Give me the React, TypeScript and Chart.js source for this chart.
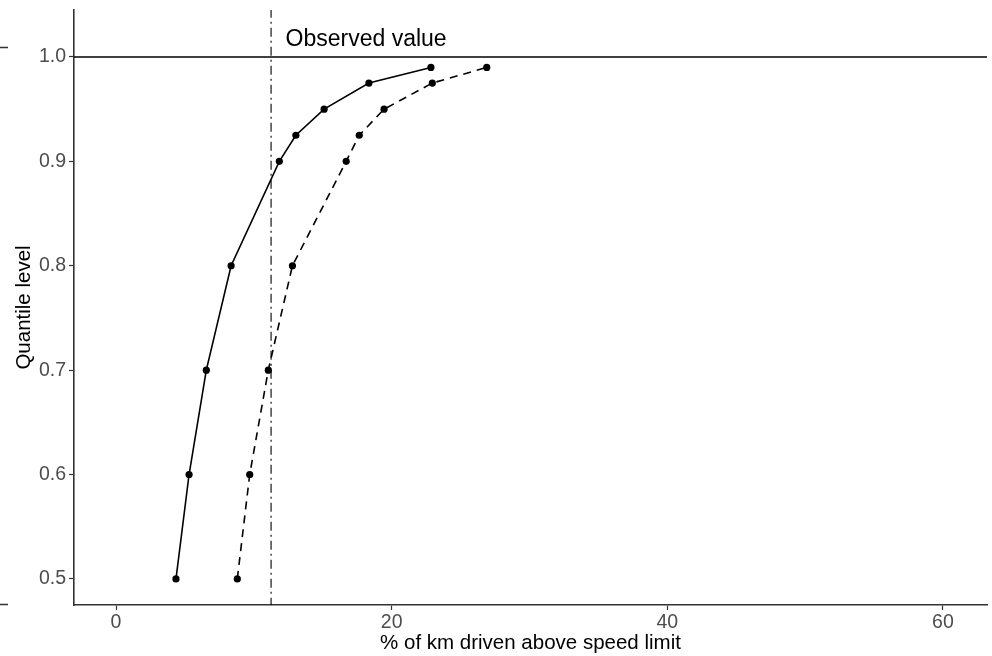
import React, { useEffect, useRef } from "react";
import { Chart, registerables } from "chart.js";

Chart.register(...registerables);

// Quantile levels and the matching percentage of km above the speed limit
const quantileLevels = [0.5, 0.6, 0.7, 0.8, 0.9, 0.925, 0.95, 0.975, 0.99];
const solidValues = [4.35, 5.3, 6.55, 8.35, 11.85, 13.05, 15.1, 18.35, 22.85];
const dashedValues = [8.8, 9.7, 11.05, 12.8, 16.7, 17.65, 19.45, 22.95, 26.9];

const observedValue = 11.25;
const observedLabel = "Observed value";
const xTicks = [0, 20, 40, 60];
const yTicks = [0.5, 0.6, 0.7, 0.8, 0.9, 1.0];
const xTitle = "% of km driven above speed limit";
const yTitle = "Quantile level";

const FONT = "'Liberation Sans', Arial, Helvetica, sans-serif";

const toPoints = (xs: number[]) => xs.map((x, i) => ({ x, y: quantileLevels[i] }));

const labelPlugin = {
  id: "observedLabel",
  afterDatasetsDraw(chart: any) {
    const { ctx, scales } = chart;
    const px = scales.x.getPixelForValue(observedValue + 1.05);
    const py = scales.y.getPixelForValue(1.017);
    ctx.save();
    ctx.fillStyle = "#000";
    ctx.font = `23px ${FONT}`;
    ctx.textAlign = "left";
    ctx.textBaseline = "middle";
    ctx.fillText(observedLabel, px, py);
    ctx.restore();
  },
};

const edgeMarksPlugin = {
  id: "edgeMarks",
  afterDraw(chart: any) {
    const { ctx } = chart;
    ctx.save();
    ctx.strokeStyle = "#333";
    ctx.lineWidth = 1.3;
    ctx.beginPath();
    ctx.moveTo(0, 47.5);
    ctx.lineTo(8, 47.5);
    ctx.moveTo(0, 604.5);
    ctx.lineTo(8, 604.5);
    ctx.stroke();
    ctx.restore();
  },
};

export default function App() {
  const canvasRef = useRef<HTMLCanvasElement | null>(null);

  useEffect(() => {
    if (!canvasRef.current) return;
    const chart = new Chart(canvasRef.current, {
      type: "scatter",
      data: {
        datasets: [
          {
            label: "reference",
            data: [
              { x: -100, y: 1.0 },
              { x: 100, y: 1.0 },
            ],
            showLine: true,
            borderColor: "#000",
            borderWidth: 1.5,
            pointRadius: 0,
          },
          {
            label: "observed",
            data: [
              { x: observedValue, y: 0 },
              { x: observedValue, y: 2 },
            ],
            showLine: true,
            borderColor: "#000",
            borderWidth: 1.1,
            borderDash: [9, 4, 2, 4],
            pointRadius: 0,
          },
          {
            label: "solid",
            data: toPoints(solidValues),
            showLine: true,
            borderColor: "#000",
            backgroundColor: "#000",
            borderWidth: 1.6,
            pointRadius: 3.6,
            pointBorderWidth: 0,
          },
          {
            label: "dashed",
            data: toPoints(dashedValues),
            showLine: true,
            borderColor: "#000",
            backgroundColor: "#000",
            borderWidth: 1.6,
            borderDash: [8, 6],
            pointRadius: 3.6,
            pointBorderWidth: 0,
          },
        ],
      },
      options: {
        animation: false,
        responsive: false,
        maintainAspectRatio: false,
        layout: { padding: { top: 10, right: 5, left: 0, bottom: 0 } },
        plugins: {
          legend: { display: false },
          tooltip: { enabled: false },
        },
        scales: {
          x: {
            type: "linear",
            min: -3.05,
            max: 63.2,
            afterBuildTicks: (scale: any) => {
              scale.ticks = xTicks.map((v) => ({ value: v }));
            },
            afterFit: (scale: any) => {
              scale.height = 51;
              scale.paddingRight = 0;
            },
            grid: {
              drawOnChartArea: false,
              drawTicks: true,
              tickLength: 5,
              tickColor: "#333",
              tickWidth: 1.2,
            },
            border: { display: true, color: "#333", width: 1.6 },
            ticks: {
              color: "#4d4d4d",
              font: { family: FONT, size: 19.5 },
              padding: 1,
              maxRotation: 0,
            },
            title: {
              display: true,
              text: xTitle,
              color: "#000",
              font: { family: FONT, size: 20.5 },
              padding: { top: 0, bottom: 0 },
            },
          },
          y: {
            type: "linear",
            min: 0.475,
            max: 1.045,
            afterBuildTicks: (scale: any) => {
              scale.ticks = yTicks.map((v) => ({ value: v }));
            },
            afterFit: (scale: any) => {
              scale.width = 74;
              scale.paddingTop = 0;
              scale.paddingBottom = 0;
            },
            grid: {
              drawOnChartArea: false,
              drawTicks: true,
              tickLength: 5,
              tickColor: "#333",
              tickWidth: 1.2,
            },
            border: { display: true, color: "#333", width: 1.6 },
            ticks: {
              color: "#4d4d4d",
              font: { family: FONT, size: 19.5 },
              padding: 3,
              callback: (v: any) => Number(v).toFixed(1),
            },
            title: {
              display: true,
              text: yTitle,
              color: "#000",
              font: { family: FONT, size: 20.5 },
              padding: { top: 12, bottom: 0 },
            },
          },
        },
      },
      plugins: [labelPlugin, edgeMarksPlugin],
    });
    return () => chart.destroy();
  }, []);

  return (
    <div style={{ position: "fixed", left: 0, top: 0, width: 992, height: 656, background: "#fff" }}>
      <canvas ref={canvasRef} width={992} height={656} style={{ display: "block" }} />
    </div>
  );
}
